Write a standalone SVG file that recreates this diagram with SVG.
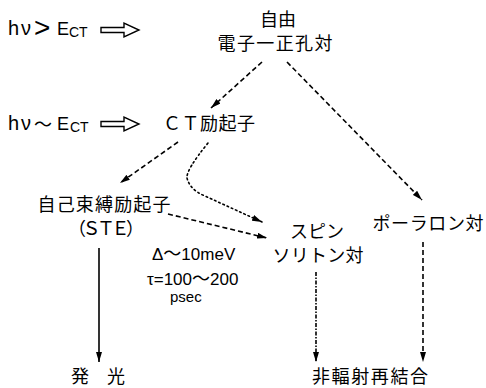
<svg xmlns="http://www.w3.org/2000/svg" width="486" height="388" viewBox="0 0 486 388">
<style>
.lat{font-family:"Liberation Sans",Arial,"Noto Sans CJK JP",sans-serif;fill:#000}
.jp{font-family:"Noto Sans CJK JP","Noto Sans CJK SC",sans-serif;fill:#000;font-size:18px}
.ln{fill:none;stroke:#000;stroke-width:1.6}
.dash{stroke-dasharray:5 3}
.dot{stroke-dasharray:1.6 3;stroke-linecap:round}
.dd{stroke-dasharray:4 1.5 1.5 1.5}
.hol{fill:#fff;stroke:#000;stroke-width:1.4}
</style>
<defs>
<marker id="ah" viewBox="0 0 10 6" refX="10" refY="3" markerWidth="10" markerHeight="6" markerUnits="userSpaceOnUse" orient="auto">
<path d="M0,0 L10,3 L0,6 Z" fill="#000"/>
</marker>
</defs>
<rect width="486" height="388" fill="#fff"/>

<g id="cond1">
<text class="lat" font-size="20" x="8" y="35" letter-spacing="2">hν</text>
<text class="lat" font-size="28" x="34" y="37">&gt;</text>
<text class="lat" font-size="18" x="57" y="35">E</text>
<text class="lat" font-size="14" x="69" y="37">CT</text>
<path class="hol" d="M101,27.5 H124 V23 L139,30 L124,37 V32.5 H101 Z"/>
</g>

<g id="cond2">
<text class="lat" font-size="20" x="8" y="130" letter-spacing="2">hν</text>
<text class="jp" font-size="21" x="34" y="131">～</text>
<text class="lat" font-size="18" x="57" y="130">E</text>
<text class="lat" font-size="14" x="70" y="132">CT</text>
<path class="hol" d="M101,121.5 H124 V117 L139,124 L124,131 V126.5 H101 Z"/>
</g>

<g id="free">
<text class="jp" x="278" y="26" text-anchor="middle">自由</text>
<text class="jp" x="275" y="50" text-anchor="middle" textLength="115">電子一正孔対</text>
</g>

<g id="ct">
<text class="jp" x="163" y="130" textLength="92">ＣＴ励起子</text>
</g>

<g id="ste">
<text class="jp" x="104" y="211" text-anchor="middle" textLength="133">自己束縛励起子</text>
<text class="jp" x="106" y="235" text-anchor="middle" textLength="76">（ＳＴＥ）</text>
</g>

<g id="spin">
<text class="jp" font-size="16" x="317" y="238" text-anchor="middle" textLength="54">スピン</text>
<text class="jp" font-size="16" x="318" y="262" text-anchor="middle" textLength="91">ソリトン対</text>
</g>

<g id="polaron">
<text class="jp" x="428" y="230" text-anchor="middle" textLength="111">ポーラロン対</text>
</g>

<g id="params">
<text class="lat" font-size="17" x="152" y="260">Δ<tspan font-family="Noto Sans CJK JP" font-size="18">～</tspan>10meV</text>
<text class="lat" font-size="17" x="147" y="285">τ=100<tspan font-family="Noto Sans CJK JP" font-size="18">～</tspan>200</text>
<text class="lat" font-size="15" x="170" y="302">psec</text>
</g>

<g id="emit">
<text class="jp" x="98" y="383" text-anchor="middle" font-size="17">発　光</text>
</g>

<g id="nonrad">
<text class="jp" x="370" y="383" text-anchor="middle" textLength="116">非輻射再結合</text>
</g>

<g id="connectors">
<path class="ln dash" d="M262,62 L211,108" marker-end="url(#ah)"/>
<path class="ln dash" d="M287,62 L422,200" marker-end="url(#ah)"/>
<path class="ln dash" d="M178,142 L120,183" marker-end="url(#ah)"/>
<path class="ln dot" d="M208,143 Q186,170 187,178 Q190,190 205,196 L262,222" marker-end="url(#ah)"/>
<path class="ln dash" d="M168,214 L267,238" marker-end="url(#ah)"/>
<path class="ln" d="M99,248 V362" marker-end="url(#ah)"/>
<path class="ln dd" d="M316,272 V362" marker-end="url(#ah)"/>
<path class="ln dash" d="M423,242 V362" marker-end="url(#ah)"/>
</g>
</svg>
